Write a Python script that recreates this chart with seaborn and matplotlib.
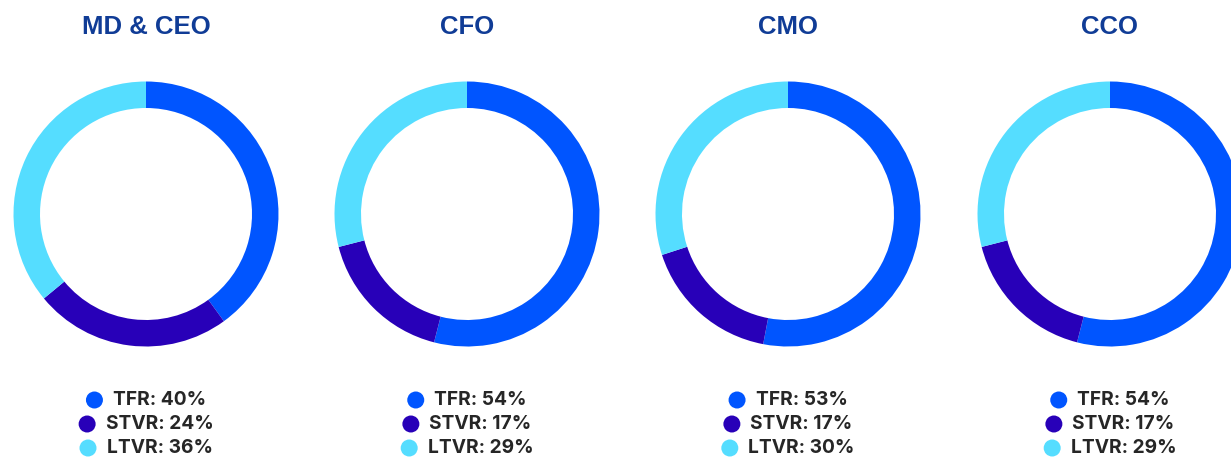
import matplotlib
matplotlib.use("Agg")
import matplotlib.pyplot as plt
import seaborn as sns

roles = ["MD & CEO", "CFO", "CMO", "CCO"]
components = ["TFR", "STVR", "LTVR"]
tfr = [40, 54, 53, 54]
stvr = [24, 17, 17, 17]
ltvr = [36, 29, 30, 29]

colors = ["#0055FF", "#2800B8", "#55DDFF"]
title_color = "#103C96"
text_color = "#262626"

sns.set_theme(style="white")
plt.rcParams["font.family"] = ["Inter", "DejaVu Sans"]

W, H = 1231, 457
fig = plt.figure(figsize=(W / 100, H / 100), dpi=100)
fig.patch.set_facecolor("white")

centers_x = [146, 467, 788, 1110]
center_y = 214
radius_px = 132.5

shares = list(zip(tfr, stvr, ltvr))

legend_rows_y = [400, 424, 448]
marker_d = 17
gap = 10

fig.canvas.draw()
renderer = fig.canvas.get_renderer()

for i, role in enumerate(roles):
    cx = centers_x[i]
    ax = fig.add_axes([(cx - radius_px) / W, (H - center_y - radius_px) / H,
                       2 * radius_px / W, 2 * radius_px / H])
    ax.pie(shares[i], colors=colors, startangle=90, counterclock=False,
           radius=1.0, wedgeprops=dict(width=0.2, linewidth=0))
    ax.set_xlim(-1, 1)
    ax.set_ylim(-1, 1)
    ax.set_aspect("equal")
    ax.axis("off")

    fig.text(cx / W, 1 - 27 / H, role, ha="center", va="center",
             fontsize=18.5, fontweight="bold", color=title_color,
             family=["Liberation Sans", "DejaVu Sans"])

    for j, comp in enumerate(components):
        label = f"{comp}: {shares[i][j]}%"
        t = fig.text(0, 1 - legend_rows_y[j] / H, label, ha="left",
                     va="center", fontsize=13.8, fontweight="bold",
                     color=text_color)
        tw = t.get_window_extent(renderer=renderer).width
        total = marker_d + gap + tw
        left = cx - total / 2
        t.set_x((left + marker_d + gap) / W)
        fig.patches.append(matplotlib.patches.Ellipse(
            ((left + marker_d / 2) / W, 1 - legend_rows_y[j] / H),
            marker_d / W, marker_d / H, transform=fig.transFigure,
            facecolor=colors[j], edgecolor="none", figure=fig))

fig.savefig("out.png", dpi=100, facecolor="white")
